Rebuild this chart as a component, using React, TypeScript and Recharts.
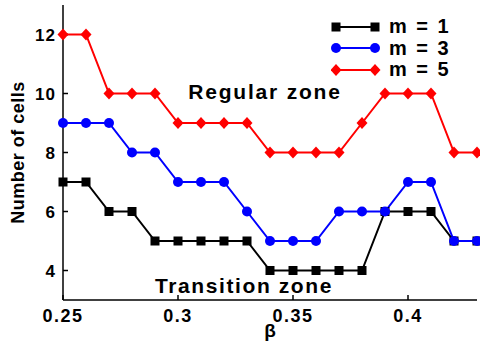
import React from "react";
import { LineChart, Line, XAxis, YAxis } from "recharts";

const betas = [0.25, 0.26, 0.27, 0.28, 0.29, 0.3, 0.31, 0.32, 0.33, 0.34, 0.35, 0.36, 0.37, 0.38, 0.39, 0.4, 0.41, 0.42, 0.43];
const m1 = [7, 7, 6, 6, 5, 5, 5, 5, 5, 4, 4, 4, 4, 4, 6, 6, 6, 5, 5];
const m3 = [9, 9, 9, 8, 8, 7, 7, 7, 6, 5, 5, 5, 6, 6, 6, 7, 7, 5, 5];
const m5 = [12, 12, 10, 10, 10, 9, 9, 9, 9, 8, 8, 8, 8, 9, 10, 10, 10, 8, 8];
const xTicks = [0.25, 0.3, 0.35, 0.4];
const yTicks = [4, 6, 8, 10, 12];

const seriesInfo = [
  { key: "m1", name: "m = 1", color: "#000000", shape: "square" },
  { key: "m3", name: "m = 3", color: "#0000ff", shape: "circle" },
  { key: "m5", name: "m = 5", color: "#ff0000", shape: "diamond" },
];

const data = betas.map((b, i) => ({ beta: b, m1: m1[i], m3: m3[i], m5: m5[i] }));

const FONT = "'Liberation Sans', Arial, sans-serif";

function Marker({ cx, cy, shape, color }: any) {
  if (cx == null || cy == null) return null;
  if (shape === "square") {
    return <rect x={cx - 4.5} y={cy - 4.5} width={9} height={9} fill={color} />;
  }
  if (shape === "circle") {
    return <circle cx={cx} cy={cy} r={5} fill={color} />;
  }
  return (
    <polygon
      points={`${cx},${cy - 6} ${cx + 5.5},${cy} ${cx},${cy + 6} ${cx - 5.5},${cy}`}
      fill={color}
    />
  );
}

// legend drawn as an overlay so it doesn't eat into the plot area
function LegendBox() {
  return (
    <div
      style={{
        position: "absolute",
        left: 331,
        top: 16,
        fontFamily: FONT,
        fontWeight: "bold",
        fontSize: 20,
        letterSpacing: 2,
        lineHeight: "21px",
        color: "#000",
      }}
    >
      {seriesInfo.map((s) => (
        <div key={s.key} style={{ display: "flex", alignItems: "center", height: 21.5 }}>
          <svg width={50} height={14} style={{ marginRight: 8 }}>
            <line x1={5} y1={7} x2={44} y2={7} stroke={s.color} strokeWidth={2} />
            <Marker cx={5} cy={7} shape={s.shape} color={s.color} />
            <Marker cx={44} cy={7} shape={s.shape} color={s.color} />
          </svg>
          <span>{s.name}</span>
        </div>
      ))}
    </div>
  );
}

const tickStyle = { fill: "#000", fontWeight: "bold", fontFamily: FONT };

export default function App() {
  return (
    <div style={{ position: "absolute", left: 0, top: 0, width: 480, height: 343, background: "#fff" }}>
      <LineChart width={480} height={343} data={data} margin={{ top: 5, right: 3, left: 8, bottom: 0 }}>
        <XAxis
          dataKey="beta"
          type="number"
          domain={[0.25, 0.43]}
          ticks={xTicks}
          tickFormatter={(v) => String(v)}
          height={43}
          tickSize={-5}
          tickMargin={14}
          stroke="#000"
          strokeWidth={1.5}
          tick={{ ...tickStyle, fontSize: 18, letterSpacing: 1.5 }}
          label={{ value: "β", position: "insideBottom", offset: 6, fill: "#000", fontSize: 19, fontWeight: "bold", fontFamily: FONT }}
        />
        <XAxis
          xAxisId="top"
          dataKey="beta"
          type="number"
          orientation="top"
          domain={[0.25, 0.43]}
          ticks={xTicks}
          tickFormatter={() => ""}
          height={0}
          tickSize={-5}
          stroke="#000"
          strokeWidth={1.5}
        />
        <YAxis
          type="number"
          domain={[3, 13]}
          ticks={yTicks}
          width={55}
          tickSize={-5}
          tickMargin={12}
          stroke="#000"
          strokeWidth={1.5}
          tick={{ ...tickStyle, fontSize: 17, letterSpacing: 1 }}
          label={{
            value: "Number of cells",
            angle: -90,
            position: "insideLeft",
            offset: 10,
            style: { textAnchor: "middle", letterSpacing: 0.5 },
            fill: "#000",
            fontSize: 18,
            fontWeight: "bold",
            fontFamily: FONT,
          }}
        />
        <YAxis
          yAxisId="right"
          type="number"
          orientation="right"
          domain={[3, 13]}
          ticks={yTicks}
          tickFormatter={() => ""}
          width={0}
          tickSize={-5}
          stroke="#000"
          strokeWidth={1.5}
        />
        {seriesInfo.map((s) => (
          <Line
            key={s.key}
            dataKey={s.key}
            name={s.name}
            stroke={s.color}
            strokeWidth={2}
            type="linear"
            isAnimationActive={false}
            dot={(p: any) => <Marker key={p.index} cx={p.cx} cy={p.cy} shape={s.shape} color={s.color} />}
            activeDot={false}
          />
        ))}
        <text x={265} y={99} textAnchor="middle" fontFamily={FONT} fontWeight="bold" fontSize={21} letterSpacing={1.8} fill="#000">
          Regular zone
        </text>
        <text x={244} y={293} textAnchor="middle" fontFamily={FONT} fontWeight="bold" fontSize={21} letterSpacing={1.6} fill="#000">
          Transition zone
        </text>
      </LineChart>
      <LegendBox />
    </div>
  );
}
